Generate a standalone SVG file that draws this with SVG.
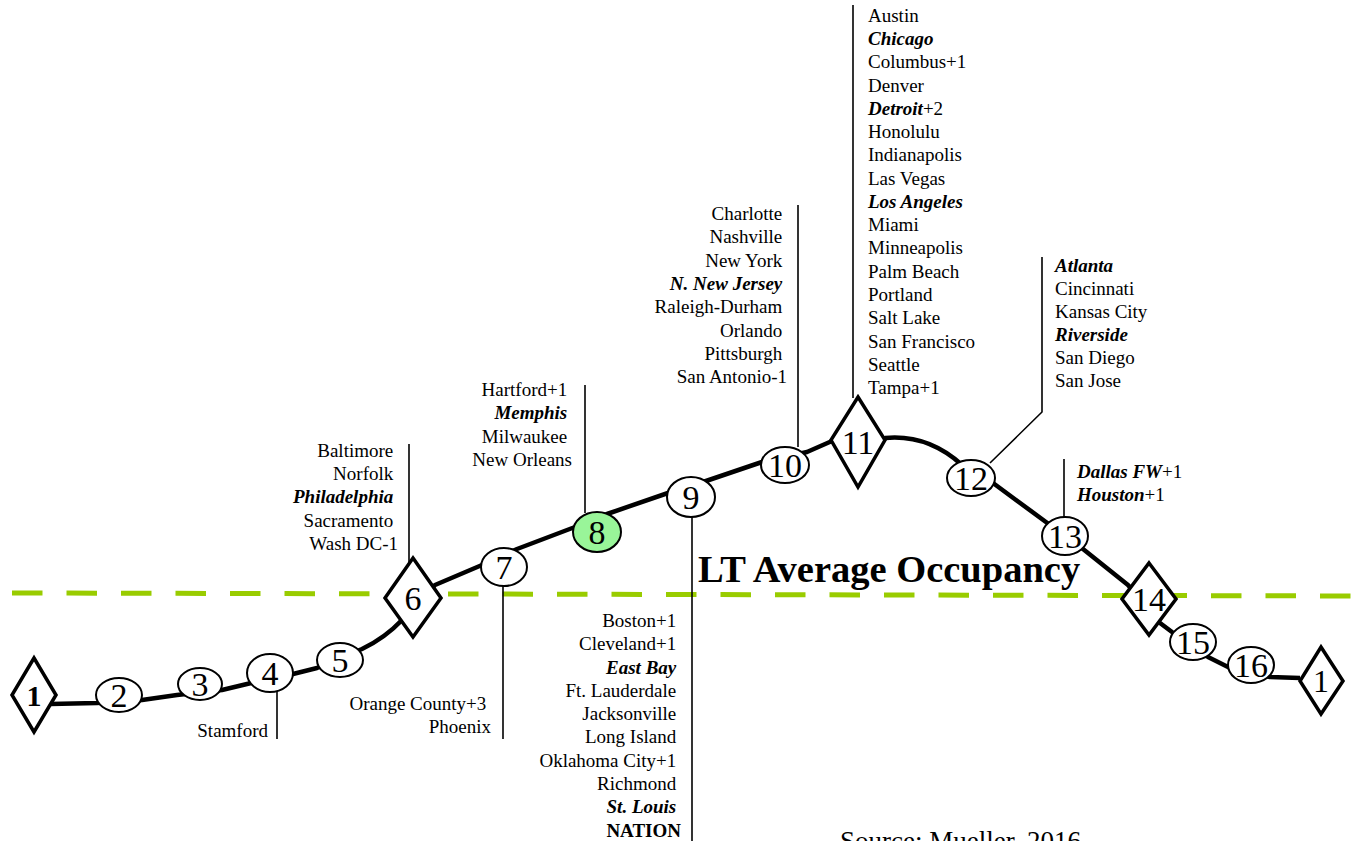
<svg xmlns="http://www.w3.org/2000/svg" width="1356" height="841" viewBox="0 0 1356 841">
  <style>
    text { font-family: "Liberation Serif", "Times New Roman", serif; fill: #000; }
    .lbl { font-size: 19px; }
    .end { text-anchor: end; }
    .bi { font-weight: bold; font-style: italic; }
    .b { font-weight: bold; }
    .num { font-size: 34px; text-anchor: middle; }
    .ell { fill: #fff; stroke: #000; stroke-width: 2; }
    .dia { fill: #fff; stroke: #000; stroke-width: 3.5; stroke-linejoin: miter; }
    .lead { fill: none; stroke: #000; stroke-width: 1.6; }
    .curve { fill: none; stroke: #000; stroke-width: 4.5; stroke-linejoin: round; }
  </style>

  <!-- average occupancy reference line -->
  <g id="average-line">
    <line x1="12" y1="593" x2="1356" y2="596" stroke="#99cc00" stroke-width="5" stroke-dasharray="30.5 24"/>
    <text x="698" y="582" class="b" font-size="38.5px">LT Average Occupancy</text>
  </g>

  <!-- connectors: the cycle curve and label leaders -->
  <g id="connectors">
    <path class="curve" d="M 50 704 L 97 703 L 142 700 L 177 695 L 222 690 L 247 684 L 293 674 L 317 668 L 362 649 Q 385 638 402 620 L 435 585 L 482 565 L 517 549 L 575 527 L 607 514 L 668 493 L 703 482 L 762 462 L 807 452 L 832 441 L 885 438 Q 928 434 962 465 L 993 483 L 1050 525 L 1083 549 L 1128 585 L 1160 623 L 1172 632 L 1208 657 L 1228 667 L 1270 677 L 1300 678"/>
    <line class="lead" x1="277" y1="690" x2="277" y2="739"/>
    <line class="lead" x1="409" y1="444" x2="409" y2="562"/>
    <line class="lead" x1="503" y1="586" x2="503" y2="739"/>
    <line class="lead" x1="585" y1="385" x2="585" y2="513"/>
    <line class="lead" x1="692" y1="516" x2="692" y2="841"/>
    <line class="lead" x1="798" y1="205" x2="798" y2="447"/>
    <line class="lead" x1="853" y1="5" x2="853" y2="398"/>
    <polyline class="lead" points="990,463 1042,412 1042,257"/>
    <line class="lead" x1="1064" y1="459" x2="1064" y2="518"/>
  </g>

  <!-- phase nodes -->
  <g id="node-1-start">
    <polygon class="dia" points="34,658 56,695 34,732 12,695"/>
    <text x="34" y="706" class="b" font-size="30px" text-anchor="middle">1</text>
  </g>
  <g id="node-2">
    <ellipse class="ell" cx="119" cy="695" rx="23" ry="17"/>
    <text x="119" y="707" class="num">2</text>
  </g>
  <g id="node-3">
    <ellipse class="ell" cx="200" cy="684" rx="22" ry="16"/>
    <text x="200" y="696" class="num">3</text>
  </g>
  <g id="node-4">
    <ellipse class="ell" cx="270" cy="673" rx="23" ry="19"/>
    <text x="270" y="685" class="num">4</text>
    <text x="268" y="737" class="lbl end">Stamford</text>
  </g>
  <g id="node-5">
    <ellipse class="ell" cx="340" cy="660" rx="23" ry="17"/>
    <text x="340" y="672" class="num">5</text>
  </g>
  <g id="node-6">
    <polygon class="dia" points="413,558 441,598 413,637 385,598"/>
    <text x="413" y="610" class="num">6</text>
    <text class="lbl end">
      <tspan x="398" y="457">Baltimore</tspan>
      <tspan x="398" y="480">Norfolk</tspan>
      <tspan x="398" y="503" class="bi">Philadelphia</tspan>
      <tspan x="398" y="527">Sacramento</tspan>
      <tspan x="398" y="550">Wash DC-1</tspan>
    </text>
  </g>
  <g id="node-7">
    <ellipse class="ell" cx="504" cy="567" rx="23" ry="19"/>
    <text x="504" y="579" class="num">7</text>
    <text class="lbl end">
      <tspan x="491" y="710">Orange County+3</tspan>
      <tspan x="491" y="733">Phoenix</tspan>
    </text>
  </g>
  <g id="node-8">
    <ellipse cx="597" cy="532" rx="24" ry="20" fill="#99f599" stroke="#000" stroke-width="2"/>
    <text x="597" y="544" class="num">8</text>
    <text class="lbl end">
      <tspan x="572" y="396">Hartford+1</tspan>
      <tspan x="572" y="419" class="bi">Memphis</tspan>
      <tspan x="572" y="443">Milwaukee</tspan>
      <tspan x="572" y="466">New Orleans</tspan>
    </text>
  </g>
  <g id="node-9">
    <ellipse class="ell" cx="691" cy="497" rx="24" ry="20"/>
    <text x="691" y="509" class="num">9</text>
    <text class="lbl end">
      <tspan x="681" y="627">Boston+1</tspan>
      <tspan x="681" y="650">Cleveland+1</tspan>
      <tspan x="681" y="674" class="bi">East Bay</tspan>
      <tspan x="681" y="697">Ft. Lauderdale</tspan>
      <tspan x="681" y="720">Jacksonville</tspan>
      <tspan x="681" y="743">Long Island</tspan>
      <tspan x="681" y="767">Oklahoma City+1</tspan>
      <tspan x="681" y="790">Richmond</tspan>
      <tspan x="681" y="813" class="bi">St. Louis</tspan>
      <tspan x="681" y="837" class="b">NATION</tspan>
    </text>
  </g>
  <g id="node-10">
    <ellipse class="ell" cx="785" cy="465" rx="24" ry="18"/>
    <text x="785" y="477" class="num">10</text>
    <text class="lbl end">
      <tspan x="787" y="220">Charlotte</tspan>
      <tspan x="787" y="243">Nashville</tspan>
      <tspan x="787" y="267">New York</tspan>
      <tspan x="787" y="290" class="bi">N. New Jersey</tspan>
      <tspan x="787" y="313">Raleigh-Durham</tspan>
      <tspan x="787" y="337">Orlando</tspan>
      <tspan x="787" y="360">Pittsburgh</tspan>
      <tspan x="787" y="383">San Antonio-1</tspan>
    </text>
  </g>
  <g id="node-11">
    <polygon class="dia" points="858,397 885,440 858,487 831,440"/>
    <text x="858" y="454" class="num">11</text>
    <text class="lbl">
      <tspan x="868" y="22">Austin</tspan>
      <tspan x="868" y="45" class="bi">Chicago</tspan>
      <tspan x="868" y="68">Columbus+1</tspan>
      <tspan x="868" y="92">Denver</tspan>
      <tspan x="868" y="115"><tspan class="bi">Detroit</tspan>+2</tspan>
      <tspan x="868" y="138">Honolulu</tspan>
      <tspan x="868" y="161">Indianapolis</tspan>
      <tspan x="868" y="185">Las Vegas</tspan>
      <tspan x="868" y="208" class="bi">Los Angeles</tspan>
      <tspan x="868" y="231">Miami</tspan>
      <tspan x="868" y="254">Minneapolis</tspan>
      <tspan x="868" y="278">Palm Beach</tspan>
      <tspan x="868" y="301">Portland</tspan>
      <tspan x="868" y="324">Salt Lake</tspan>
      <tspan x="868" y="348">San Francisco</tspan>
      <tspan x="868" y="371">Seattle</tspan>
      <tspan x="868" y="394">Tampa+1</tspan>
    </text>
  </g>
  <g id="node-12">
    <ellipse class="ell" cx="971" cy="478" rx="24" ry="18"/>
    <text x="971" y="490" class="num">12</text>
    <text class="lbl">
      <tspan x="1055" y="272" class="bi">Atlanta</tspan>
      <tspan x="1055" y="295">Cincinnati</tspan>
      <tspan x="1055" y="318">Kansas City</tspan>
      <tspan x="1055" y="341" class="bi">Riverside</tspan>
      <tspan x="1055" y="364">San Diego</tspan>
      <tspan x="1055" y="387">San Jose</tspan>
    </text>
  </g>
  <g id="node-13">
    <ellipse class="ell" cx="1065" cy="536" rx="23" ry="19"/>
    <text x="1065" y="548" class="num">13</text>
    <text class="lbl">
      <tspan x="1077" y="478"><tspan class="bi">Dallas FW</tspan>+1</tspan>
      <tspan x="1077" y="501"><tspan class="bi">Houston</tspan>+1</tspan>
    </text>
  </g>
  <g id="node-14">
    <polygon class="dia" points="1149,563 1176,599 1149,635 1122,599"/>
    <text x="1149" y="611" class="num">14</text>
  </g>
  <g id="node-15">
    <ellipse class="ell" cx="1193" cy="642" rx="23" ry="18"/>
    <text x="1193" y="654" class="num">15</text>
  </g>
  <g id="node-16">
    <ellipse class="ell" cx="1251" cy="665" rx="23" ry="18"/>
    <text x="1251" y="677" class="num">16</text>
  </g>
  <g id="node-1-end">
    <polygon class="dia" points="1321,647 1343,681 1321,714 1300,681"/>
    <text x="1321" y="692" font-size="32px" text-anchor="middle">1</text>
  </g>

  <text x="840" y="850" font-size="27px">Source: Mueller, 2016</text>
</svg>
